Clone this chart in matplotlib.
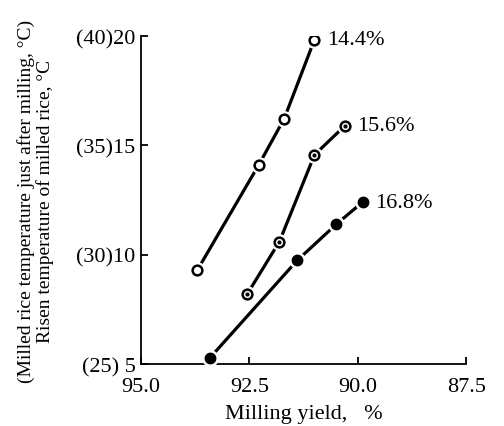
import matplotlib
matplotlib.use("Agg")
import matplotlib.pyplot as plt

plt.rcParams['font.family'] = ['Liberation Serif', 'DejaVu Serif']

# milling yield (%) and risen temperature (degC) per moisture content
x144 = [93.70, 92.29, 91.70, 91.00]
y144 = [9.31, 14.10, 16.22, 19.84]

x156 = [92.55, 91.81, 91.00, 90.30]
y156 = [8.21, 10.60, 14.57, 15.90]

x168 = [93.42, 91.40, 90.50, 89.89]
y168 = [5.27, 9.74, 11.39, 12.41]

series_labels = ['14.4%', '15.6%', '16.8%']
xticks = [95.0, 92.5, 90.0, 87.5]
xtick_labels = ['95.0', '92.5', '90.0', '87.5']
yticks = [5, 10, 15, 20]
ytick_labels = ['(25) 5', '(30)10', '(35)15', '(40)20']

fig = plt.figure(figsize=(5.04, 4.27), dpi=100)
ax = fig.add_axes([0.280, 0.145, 0.645, 0.768])

for xs, ys, lab, style in [(x144, y144, series_labels[0], 'open'),
                           (x156, y156, series_labels[1], 'dot'),
                           (x168, y168, series_labels[2], 'fill')]:
    ax.plot(xs, ys, color='black', lw=2.3, zorder=2, solid_capstyle='butt')
    # white halo so the line stops short of each marker
    ax.plot(xs, ys, 'o', ms=11, color='white', mec='white', zorder=3)
    if style == 'fill':
        ax.plot(xs, ys, 'o', ms=7.5, color='black', mec='black', zorder=4)
    else:
        ax.plot(xs, ys, 'o', ms=7, mfc='white', mec='black', mew=1.8, zorder=4)
        if style == 'dot':
            ax.plot(xs, ys, 'o', ms=2, color='black', zorder=5)
    ax.annotate(lab, (xs[-1], ys[-1]), xytext=(9, 0), textcoords='offset points',
                va='center', ha='left', fontsize=16)

ax.set_xlim(95.0, 87.5)
ax.set_ylim(5, 20)
ax.set_xticks(xticks)
ax.set_xticklabels(xtick_labels, fontsize=16)
ax.set_yticks(yticks)
ax.set_yticklabels(ytick_labels, fontsize=16)
ax.tick_params(direction='in', length=5, width=1.3)
ax.tick_params(axis='y', pad=4)
ax.tick_params(axis='x', pad=9)
for s in ['top', 'right']:
    ax.spines[s].set_visible(False)
for s in ['left', 'bottom']:
    ax.spines[s].set_linewidth(1.3)

ax.set_xlabel('Milling yield,   %', fontsize=16, labelpad=6)
ax.set_ylabel('(Milled rice temperature just after milling, °C)\nRisen temperature of milled rice, °C',
              fontsize=14, labelpad=16, linespacing=1.05)

fig.savefig('out.png', dpi=100)
